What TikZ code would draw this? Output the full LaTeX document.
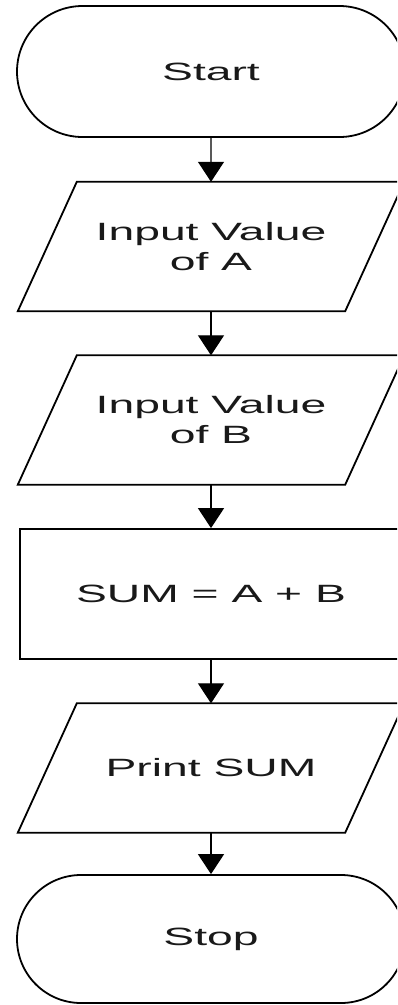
\documentclass[tikz,border=0pt]{standalone}
\usepackage{fontspec}
\setmainfont{Liberation Sans}[FakeStretch=1.85]
\usetikzlibrary{shapes.misc,arrows.meta}
\tikzset{
  term/.style={draw, line width=1.8pt, rounded rectangle, minimum width=388pt, inner sep=0pt},
  io/.style={rectangle, minimum width=327pt, minimum height=129pt, inner sep=0pt, align=center},
  ioline/.style={line width=1.8pt, line join=miter},
  proc/.style={draw, line width=1.8pt, rectangle, minimum width=382pt, minimum height=130pt, inner sep=0pt},
  flow/.style={line width=1.3pt, -{Triangle[length=20pt,width=26pt]}},
  every node/.style={font=\fontsize{25}{30}\selectfont, text=black!90}
}
\newcommand\drawio[1]{\draw[ioline] ([xshift=-29.5pt]#1.south west) -- ([xshift=29.5pt]#1.north west)
  -- ([xshift=29.5pt]#1.north east) -- ([xshift=-29.5pt]#1.south east) -- cycle;}
\begin{document}
\begin{tikzpicture}[x=1pt,y=-1pt]
\useasboundingbox (0,0) rectangle (397,1005);
\clip (0,0) rectangle (397,1005);
\node[term, minimum height=131pt] (start) at (211,71.5) {Start};
\node[io] (inA) at (211,246.5) {Input Value\\of A};
\node[io] (inB) at (211,420) {Input Value\\of B};
\node[proc] (sum) at (211,594) {SUM = A + B};
\node[io] (pr) at (211,768) {Print SUM};
\node[term, minimum height=128pt] (stop) at (211,939) {Stop};
\drawio{inA}
\drawio{inB}
\drawio{pr}
\draw[flow] (start) -- (inA);
\draw[flow] (inA) -- (inB);
\draw[flow] (inB) -- (sum);
\draw[flow] (sum) -- (pr);
\draw[flow] (pr) -- (stop);
\end{tikzpicture}
\end{document}
